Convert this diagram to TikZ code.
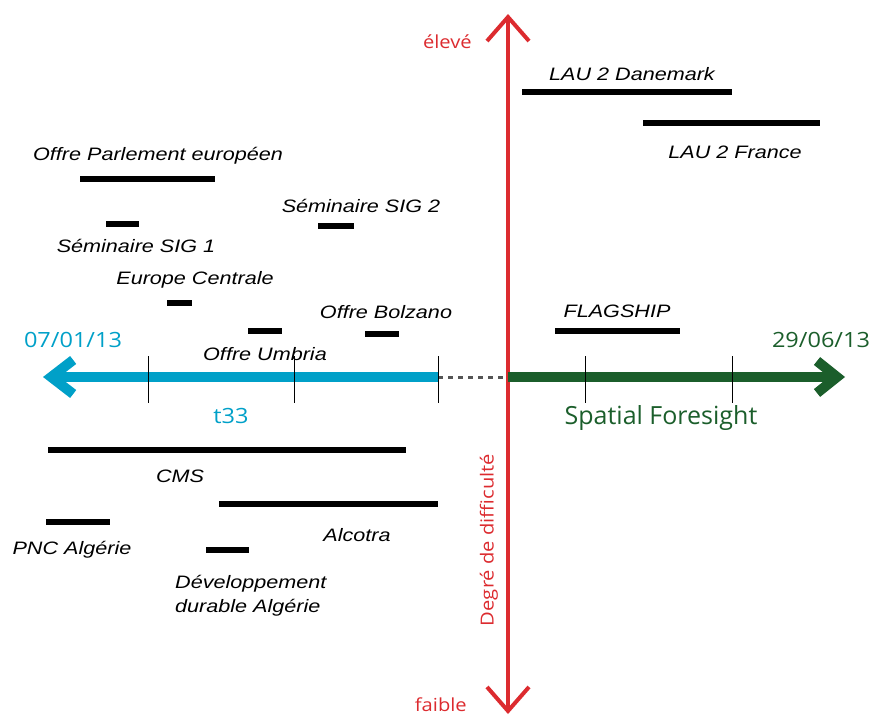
\documentclass[tikz,border=0pt]{standalone}
\usepackage{fontspec}
\setmainfont[FakeStretch=1.2]{Liberation Sans}
\newfontfamily\axefont[FakeStretch=1.12]{Open Sans}
\newfontfamily\titrefont{Open Sans}
\usetikzlibrary{arrows.meta, positioning}
\definecolor{rouge}{HTML}{DC2B2F}
\definecolor{bleu}{HTML}{00A0C8}
\definecolor{vert}{HTML}{1B5E2B}
\definecolor{gristrait}{HTML}{555555}
\tikzset{
  barre/.style={line width=6pt},
  projet/.style={font=\fontsize{18}{24}\selectfont\itshape, inner sep=0pt},
  graduation/.style={line width=1pt},
  axetexte/.style={font=\axefont\fontsize{21}{24}\selectfont, inner sep=0pt},
  difficulte/.style={rouge, inner sep=0pt, font=\axefont\fontsize{18}{20}\selectfont},
}

\begin{document}
\begin{tikzpicture}[x=1pt,y=-1pt]
    \useasboundingbox (0,0) rectangle (887,717);
    %axe vertical
        \coordinate (haut) at (508,14);
        \coordinate (bas) at (508,714);
        \draw[rouge, line width=4pt, {Straight Barb[length=24pt,width=42pt]}-{Straight Barb[length=24pt,width=42pt]}] (bas) -- (haut);
        \node[difficulte, anchor=east] (eleve) at (472,42) {élevé};
        \node[difficulte, anchor=east] (faible) at (467,705) {faible};
        \node[difficulte, rotate=90] (degre) at (489,540) {Degré de difficulté};
    %axe du temps
        \coordinate (debut) at (43,377);
        \coordinate (finbleu) at (438,377);
        \coordinate (centre) at (508,377);
        \coordinate (fin) at (845,377);
        \draw[bleu, line width=10pt, {Straight Barb[length=22pt,width=34pt]}-] (debut) -- (finbleu);
        \draw[gristrait, line width=3pt, dash pattern=on 5pt off 5pt] (finbleu) -- (centre);
        \draw[vert, line width=10pt, -{Straight Barb[length=20pt,width=32pt]}] (centre) -- (fin);
    %graduations
        \foreach \x in {148,294,438,585,732}
            \draw[graduation] (\x,356) -- (\x,403);
    %textes de l'axe
        \node[bleu, axetexte] (date1) at (73,340) {07/01/13};
        \node[bleu, axetexte] (t33) at (231,416) {t33};
        \node[vert, axetexte] (date2) at (821,340) {29/06/13};
        \node[vert, axetexte, font=\titrefont\fontsize{25}{30}\selectfont] (sf) at (661,418) {Spatial Foresight};
    %projets
        \draw[barre] (80,179) -- (215,179);
        \node[projet] (parlement) at (158,156) {Offre Parlement européen};
        \draw[barre] (106,224) -- (139,224);
        \node[projet] (sig1) at (136,246) {Séminaire SIG 1};
        \draw[barre] (318,226) -- (354,226);
        \node[projet] (sig2) at (361,206) {Séminaire SIG 2};
        \draw[barre] (167,303) -- (192,303);
        \node[projet] (europe) at (195,280) {Europe Centrale};
        \draw[barre] (248,331) -- (282,331);
        \node[projet] (umbria) at (265,354) {Offre Umbria};
        \draw[barre] (365,334) -- (399,334);
        \node[projet] (bolzano) at (386,312) {Offre Bolzano};
        \draw[barre] (555,331) -- (680,331);
        \node[projet] (flagship) at (617,311) {FLAGSHIP};
        \draw[barre] (522,92) -- (732,92);
        \node[projet] (danemark) at (632,74) {LAU 2 Danemark};
        \draw[barre] (643,123) -- (820,123);
        \node[projet] (france) at (735,152) {LAU 2 France};
        \draw[barre] (48,450) -- (406,450);
        \node[projet] (cms) at (180,476) {CMS};
        \draw[barre] (219,504) -- (438,504);
        \node[projet] (alcotra) at (357,535) {Alcotra};
        \draw[barre] (46,522) -- (110,522);
        \node[projet] (pnc) at (72,550) {PNC Algérie};
        \draw[barre] (206,550) -- (249,550);
        \node[projet, align=left, anchor=west] (developpement) at (175,596) {Développement\\durable Algérie};
\end{tikzpicture}
\end{document}
